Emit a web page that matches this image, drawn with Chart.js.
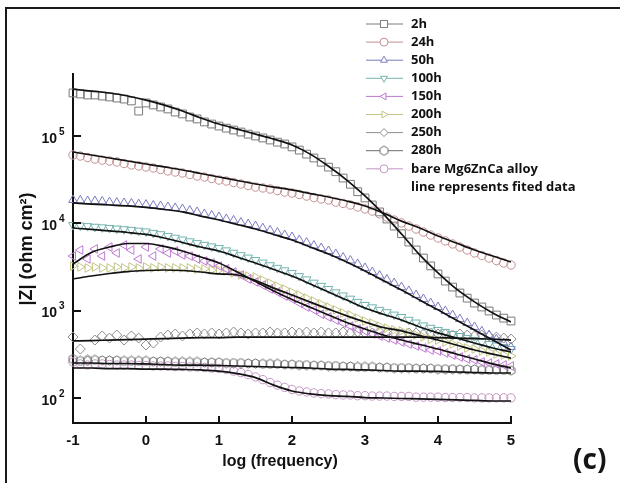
<!DOCTYPE html>
<html>
<head>
<meta charset="utf-8">
<script src="https://cdn.jsdelivr.net/npm/chart.js@4.4.1/dist/chart.umd.min.js"></script>
<style>
    html, body { margin: 0; padding: 0; background: #fff; }
    #wrap { position: relative; width: 620px; height: 483px; overflow: hidden; background: #fff; }
    #chart { position: absolute; left: 0; top: 0; }
    #frame { position: absolute; left: 5px; top: 7px; width: 700px; height: 600px; border-top: 2px solid #1a1a1a; border-left: 2px solid #1a1a1a; pointer-events: none; }
    #panel { position: absolute; left: 573px; top: 439px; font: bold 28px "Open Sans", sans-serif; color: #151515; }
</style>
</head>
<body>
<div id="wrap">
    <canvas id="chart" width="620" height="483"></canvas>
    <div id="frame"></div>
    <div id="panel">(c)</div>
</div>
<script>
// log(frequency) of the measured points and of the fitted curves
const logFreq = [-1, -0.9, -0.8, -0.7, -0.6, -0.5, -0.4, -0.3, -0.2, -0.1,
    0, 0.1, 0.2, 0.3, 0.4, 0.5, 0.6, 0.7, 0.8, 0.9,
    1, 1.1, 1.2, 1.3, 1.4, 1.5, 1.6, 1.7, 1.8, 1.9,
    2, 2.1, 2.2, 2.3, 2.4, 2.5, 2.6, 2.7, 2.8, 2.9,
    3, 3.1, 3.2, 3.3, 3.4, 3.5, 3.6, 3.7, 3.8, 3.9,
    4, 4.1, 4.2, 4.3, 4.4, 4.5, 4.6, 4.7, 4.8, 4.9, 5]
const fitFreq = [-1, -0.75, -0.5, -0.25, 0, 0.25, 0.5, 0.75, 1, 1.25, 1.5, 1.75, 2,
    2.25, 2.5, 2.75, 3, 3.25, 3.5, 3.75, 4, 4.25, 4.5, 4.75, 5]

const xTicks = [-1, 0, 1, 2, 3, 4, 5]
const yTicks = [1e2, 1e3, 1e4, 1e5]
const yTickPowers = ["2", "3", "4", "5"]

const seriesNames = ["2h", "24h", "50h", "100h", "150h", "200h", "250h", "280h", "bare Mg6ZnCa alloy"]
const fitNote = "line represents fited data"

// |Z| in ohm cm2
const z2h = [3.11e5, 3.03e5, 2.95e5, 2.95e5, 2.87e5, 2.80e5, 2.72e5, 2.65e5, 2.52e5, 1.93e5,
    2.39e5, 2.27e5, 2.15e5, 2.04e5, 1.88e5, 1.79e5, 1.65e5, 1.57e5, 1.45e5, 1.37e5,
    1.30e5, 1.23e5, 1.17e5, 1.11e5, 1.05e5, 1.0e5, 9.5e4, 9.0e4, 8.5e4, 8.1e4,
    7.5e4, 6.9e4, 6.2e4, 5.6e4, 5.0e4, 4.4e4, 3.9e4, 3.3e4, 2.8e4, 2.3e4,
    1.95e4, 1.62e4, 1.35e4, 1.12e4, 9.3e3, 7.6e3, 6.1e3, 4.95e3, 4.0e3, 3.25e3,
    2.63e3, 2.18e3, 1.86e3, 1.59e3, 1.39e3, 1.22e3, 1.10e3, 990, 890, 820, 760]
const z24h = [6.06e4, 5.9e4, 5.67e4, 5.45e4, 5.3e4, 5.17e4, 5.04e4, 4.84e4, 4.66e4, 4.54e4,
    4.42e4, 4.30e4, 4.14e4, 3.98e4, 3.87e4, 3.77e4, 3.62e4, 3.48e4, 3.39e4, 3.26e4,
    3.13e4, 3.05e4, 2.93e4, 2.82e4, 2.71e4, 2.60e4, 2.54e4, 2.47e4, 2.37e4, 2.28e4,
    2.22e4, 2.14e4, 2.05e4, 1.97e4, 1.90e4, 1.85e4, 1.75e4, 1.69e4, 1.62e4, 1.54e4,
    1.46e4, 1.38e4, 1.28e4, 1.18e4, 1.09e4, 1.01e4, 9.3e3, 8.6e3, 7.95e3, 7.34e3,
    6.79e3, 6.28e3, 5.8e3, 5.35e3, 4.94e3, 4.57e3, 4.28e3, 4.0e3, 3.75e3, 3.51e3, 3.33e3]
const z50h = [1.85e4, 1.83e4, 1.80e4, 1.80e4, 1.78e4, 1.75e4, 1.73e4, 1.71e4, 1.69e4, 1.66e4,
    1.64e4, 1.60e4, 1.58e4, 1.54e4, 1.50e4, 1.46e4, 1.40e4, 1.35e4, 1.28e4, 1.23e4,
    1.18e4, 1.12e4, 1.08e4, 1.02e4, 9.8e3, 9.3e3, 8.8e3, 8.3e3, 7.85e3, 7.35e3,
    6.97e3, 6.44e3, 6.03e3, 5.57e3, 5.21e3, 4.82e3, 4.45e3, 4.06e3, 3.75e3, 3.42e3,
    3.08e3, 2.77e3, 2.52e3, 2.27e3, 2.07e3, 1.86e3, 1.68e3, 1.51e3, 1.36e3, 1.22e3,
    1.10e3, 990, 890, 800, 720, 650, 580, 525, 470, 425, 383]
const z100h = [9.55e3, 9.41e3, 9.28e3, 9.13e3, 8.99e3, 8.83e3, 8.7e3, 8.55e3, 8.4e3, 8.23e3,
    8.07e3, 7.77e3, 7.5e3, 7.17e3, 6.84e3, 6.52e3, 6.22e3, 5.93e3, 5.67e3, 5.44e3,
    5.21e3, 4.9e3, 4.6e3, 4.31e3, 4.05e3, 3.8e3, 3.55e3, 3.31e3, 3.09e3, 2.89e3,
    2.7e3, 2.48e3, 2.28e3, 2.09e3, 1.92e3, 1.77e3, 1.62e3, 1.49e3, 1.37e3, 1.26e3,
    1.16e3, 1.09e3, 1.02e3, 960, 900, 845, 785, 730, 676, 636,
    600, 570, 540, 512, 485, 460, 437, 414, 398, 383, 363]
const z150h = [4.22e3, 4.94e3, 3.9e3, 5.08e3, 4.22e3, 5.35e3, 4.57e3, 5.63e3, 4.94e3, 3.9e3,
    5.35e3, 4.22e3, 5.08e3, 4.57e3, 4.82e3, 4.34e3, 4.22e3, 3.9e3, 3.70e3, 3.51e3,
    3.24e3, 3.0e3, 2.77e3, 2.56e3, 2.30e3, 2.13e3, 1.96e3, 1.77e3, 1.63e3, 1.47e3,
    1.36e3, 1.22e3, 1.10e3, 1.02e3, 910, 845, 780, 720, 665, 615,
    585, 540, 512, 485, 460, 437, 414, 393, 373, 354,
    345, 327, 310, 294, 279, 272, 258, 251, 245, 238, 232]
const z200h = [3.24e3, 3.16e3, 3.08e3, 3.16e3, 3.08e3, 3.08e3, 3.16e3, 3.08e3, 3.16e3, 3.08e3,
    3.16e3, 3.08e3, 3.16e3, 3.08e3, 3.08e3, 3.08e3, 3.08e3, 3.0e3, 3.0e3, 2.92e3,
    2.92e3, 2.84e3, 2.70e3, 2.56e3, 2.49e3, 2.43e3, 2.24e3, 2.07e3, 1.91e3, 1.77e3,
    1.63e3, 1.51e3, 1.39e3, 1.29e3, 1.19e3, 1.10e3, 1.02e3, 940, 890, 820,
    760, 720, 665, 630, 600, 585, 555, 525, 500, 470,
    460, 437, 414, 393, 373, 363, 345, 336, 318, 310, 302]
const z250h = [498, 363, 265, 460, 512, 485, 525, 460, 512, 485,
    404, 425, 498, 525, 540, 512, 540, 555, 540, 555,
    540, 555, 569, 555, 540, 555, 555, 569, 555, 555,
    569, 555, 569, 555, 569, 555, 555, 569, 555, 569,
    555, 555, 569, 555, 555, 540, 555, 555, 540, 555,
    540, 540, 525, 540, 525, 512, 525, 512, 498, 485, 472]
const z280h = [279, 265, 272, 272, 268, 268, 268, 265, 265, 265,
    265, 261, 261, 261, 258, 258, 258, 258, 255, 255,
    255, 251, 251, 251, 248, 248, 245, 245, 245, 241,
    241, 238, 238, 235, 235, 232, 232, 229, 229, 226,
    226, 226, 223, 223, 220, 220, 220, 217, 217, 217,
    214, 214, 214, 212, 212, 212, 209, 209, 209, 209, 206]
const zBare = [258, 245, 238, 245, 245, 241, 238, 238, 238, 235,
    235, 232, 232, 232, 229, 229, 226, 226, 223, 220,
    217, 212, 203, 195, 185, 174, 162, 150, 140, 132,
    125, 120, 117, 114, 112, 111, 109, 108, 108, 106,
    106, 105, 105, 105, 104, 104, 104, 102, 102, 102,
    102, 101, 101, 101, 101, 100, 100, 100, 100, 100, 100]

// fitted curves (black lines)
const fit2h = [3.45e5, 3.27e5, 3.11e5, 2.87e5, 2.58e5, 2.26e5, 1.93e5, 1.61e5, 1.37e5, 1.20e5, 1.05e5, 9.2e4, 7.9e4,
    6.2e4, 4.5e4, 3.13e4, 2.06e4, 1.28e4, 7.55e3, 4.34e3, 2.70e3, 1.77e3, 1.26e3, 940, 740]
const fit24h = [6.56e4, 6.06e4, 5.60e4, 5.17e4, 4.78e4, 4.42e4, 4.08e4, 3.72e4, 3.39e4, 3.09e4, 2.82e4, 2.60e4, 2.41e4,
    2.19e4, 2.00e4, 1.80e4, 1.58e4, 1.31e4, 1.06e4, 8.83e3, 7.14e3, 5.95e3, 4.94e3, 4.22e3, 3.60e3]
const fit50h = [1.71e4, 1.66e4, 1.62e4, 1.58e4, 1.52e4, 1.44e4, 1.35e4, 1.21e4, 1.09e4, 9.7e3, 8.6e3, 7.45e3, 6.44e3,
    5.35e3, 4.45e3, 3.6e3, 2.84e3, 2.21e3, 1.72e3, 1.32e3, 1.02e3, 780, 600, 460, 354]
const fit100h = [8.83e3, 8.5e3, 8.17e3, 7.85e3, 7.45e3, 6.79e3, 6.03e3, 5.35e3, 4.82e3, 4.11e3, 3.51e3, 2.96e3, 2.49e3,
    2.02e3, 1.63e3, 1.32e3, 1.07e3, 910, 780, 650, 555, 485, 425, 373, 336]
const fit150h = [3.42e3, 4.63e3, 5.35e3, 5.87e3, 5.87e3, 5.43e3, 4.82e3, 4.11e3, 3.51e3, 2.77e3, 2.15e3, 1.68e3, 1.34e3,
    1.09e3, 890, 730, 615, 525, 460, 409, 363, 318, 279, 245, 220]
const fit200h = [2.30e3, 2.49e3, 2.66e3, 2.80e3, 2.88e3, 2.92e3, 2.88e3, 2.77e3, 2.63e3, 2.56e3, 2.21e3, 1.81e3, 1.51e3,
    1.25e3, 1.04e3, 870, 740, 640, 585, 518, 460, 404, 354, 318, 286]
const fit250h = [449, 454, 460, 466, 472, 478, 485, 491, 491, 498, 498, 498, 498,
    498, 498, 498, 498, 498, 498, 498, 491, 485, 478, 472, 460]
const fit280h = [251, 251, 248, 248, 245, 241, 238, 238, 235, 232, 229, 226, 223,
    220, 214, 212, 209, 206, 203, 203, 201, 198, 195, 193, 193]
const fitBare = [220, 220, 217, 217, 214, 214, 212, 209, 203, 190, 171, 140, 120,
    111, 106, 104, 101, 99.8, 98.5, 97.3, 96, 94.8, 93.5, 92.2, 92.2]

const measured = [z2h, z24h, z50h, z100h, z150h, z200h, z250h, z280h, zBare]
const fitted = [fit2h, fit24h, fit50h, fit100h, fit150h, fit200h, fit250h, fit280h, fitBare]

const axisFont = '"Liberation Sans", Arial, sans-serif'
const legendFont = '"Open Sans", "Liberation Sans", sans-serif'

function hexMarker(color, fill) {
    const c = document.createElement("canvas")
    c.width = 11
    c.height = 11
    const g = c.getContext("2d")
    g.beginPath()
    for (let k = 0; k < 6; k++) {
        const a = Math.PI / 3 * k - Math.PI / 2
        const px = 5.5 + 4.6 * Math.cos(a)
        const py = 5.5 + 4.6 * Math.sin(a)
        if (k === 0) g.moveTo(px, py)
        else g.lineTo(px, py)
    }
    g.closePath()
    if (fill) {
        g.fillStyle = "#fff"
        g.fill()
    }
    g.strokeStyle = color
    g.lineWidth = 1
    g.stroke()
    return c
}

const markerStyles = [
    { color: "#7a7a7a", style: "rect", radius: 5.5, rotation: 0 },
    { color: "#c49090", style: "circle", radius: 4.2, rotation: 0 },
    { color: "#7c7cc0", style: "triangle", radius: 5, rotation: 0 },
    { color: "#74b4b0", style: "triangle", radius: 5, rotation: 180 },
    { color: "#c078d2", style: "triangle", radius: 5, rotation: 270 },
    { color: "#c4c486", style: "triangle", radius: 5, rotation: 90 },
    { color: "#8e8e8e", style: "rectRot", radius: 5, rotation: 0 },
    { color: "#6c6c6c", style: "hex", radius: 5, rotation: 0 },
    { color: "#c496c4", style: "circle", radius: 4.2, rotation: 0 }
]

function pointStyleFor(m, forLegend) {
    return m.style === "hex" ? hexMarker(m.color, forLegend) : m.style
}

function buildDatasets() {
    const fits = fitted.map((vals, i) => ({
        label: seriesNames[i] + " fit",
        data: fitFreq.map((f, k) => ({ x: f, y: vals[k] })),
        borderColor: "#121212",
        borderWidth: 1.7,
        pointRadius: 0,
        cubicInterpolationMode: "monotone",
        fill: false,
        order: 0
    }))
    const points = measured.map((vals, i) => {
        const m = markerStyles[i]
        return {
            label: seriesNames[i],
            data: logFreq.map((f, k) => ({ x: f, y: vals[k] })),
            showLine: false,
            borderColor: m.color,
            backgroundColor: "rgba(0,0,0,0)",
            pointStyle: pointStyleFor(m, false),
            pointRadius: m.radius,
            pointRotation: m.rotation,
            pointBorderWidth: 1,
            clip: false,
            order: 1
        }
    })
    return fits.concat(points)
}

const decorations = {
    id: "decorations",
    afterDraw(chart) {
        const { ctx, chartArea: area } = chart
        const xs = chart.scales.x
        const ys = chart.scales.y
        ctx.save()

        // ticks point into the plot
        ctx.strokeStyle = "#111"
        ctx.lineWidth = 2
        ctx.beginPath()
        xTicks.forEach(v => {
            const px = Math.round(xs.getPixelForValue(v))
            ctx.moveTo(px, area.bottom)
            ctx.lineTo(px, area.bottom - 7)
        })
        yTicks.forEach(v => {
            const py = Math.round(ys.getPixelForValue(v))
            ctx.moveTo(area.left, py)
            ctx.lineTo(area.left + 8, py)
        })
        ctx.stroke()

        // 10^n labels
        ctx.fillStyle = "#111"
        ctx.textBaseline = "middle"
        yTicks.forEach((v, i) => {
            const py = ys.getPixelForValue(v)
            ctx.font = `bold 14px ${axisFont}`
            ctx.textAlign = "right"
            ctx.fillText("10", 57, py + 3)
            ctx.font = `bold 10px ${axisFont}`
            ctx.textAlign = "left"
            ctx.fillText(yTickPowers[i], 59, py - 4)
        })

        // axis titles
        ctx.font = `bold 16px ${axisFont}`
        ctx.textAlign = "center"
        ctx.fillText("log (frequency)", 280, 462)
        ctx.save()
        ctx.translate(27, 249)
        ctx.rotate(-Math.PI / 2)
        ctx.font = `bold 18px ${axisFont}`
        ctx.fillText("|Z| (ohm cm²)", 0, 0)
        ctx.restore()

        // legend
        ctx.textAlign = "left"
        ctx.font = `bold 13px ${legendFont}`
        seriesNames.forEach((name, i) => {
            const m = markerStyles[i]
            const y = 24 + i * 18.1
            ctx.strokeStyle = m.color
            ctx.lineWidth = 1
            ctx.beginPath()
            ctx.moveTo(366, y)
            ctx.lineTo(403, y)
            ctx.stroke()
            ctx.fillStyle = "#fff"
            Chart.helpers.drawPoint(ctx, {
                pointStyle: pointStyleFor(m, true),
                radius: m.style === "rect" ? 5 : 4,
                rotation: m.rotation,
                borderWidth: 1
            }, 384, y)
            ctx.fillStyle = "#111"
            ctx.fillText(name, 411, y)
        })
        ctx.fillText(fitNote, 411, 24 + seriesNames.length * 18.1)

        ctx.restore()
    }
}

window.addEventListener("load", () => {
    const ctx = document.querySelector("#chart").getContext("2d")
    new Chart(ctx, {
        type: "line",
        data: { datasets: buildDatasets() },
        options: {
            responsive: false,
            animation: false,
            events: [],
            layout: { padding: { top: 74, right: 109, left: 0, bottom: 0 } },
            plugins: { legend: { display: false }, tooltip: { enabled: false } },
            scales: {
                x: {
                    type: "linear",
                    min: -1,
                    max: 5,
                    afterBuildTicks: s => { s.ticks = xTicks.map(v => ({ value: v })) },
                    afterFit: s => { s.height = 60 },
                    grid: { display: false, drawTicks: false },
                    border: { display: true, color: "#111", width: 2 },
                    ticks: {
                        padding: 9,
                        color: "#111",
                        font: { family: axisFont, size: 15, weight: "bold" },
                        callback: v => String(v)
                    }
                },
                y: {
                    type: "logarithmic",
                    min: 51.6,
                    max: 513000,
                    afterBuildTicks: s => { s.ticks = yTicks.map(v => ({ value: v })) },
                    afterFit: s => { s.width = 73 },
                    grid: { display: false, drawTicks: false },
                    border: { display: true, color: "#111", width: 2 },
                    ticks: { display: false }
                }
            }
        },
        plugins: [decorations]
    })
})
</script>
</body>
</html>
